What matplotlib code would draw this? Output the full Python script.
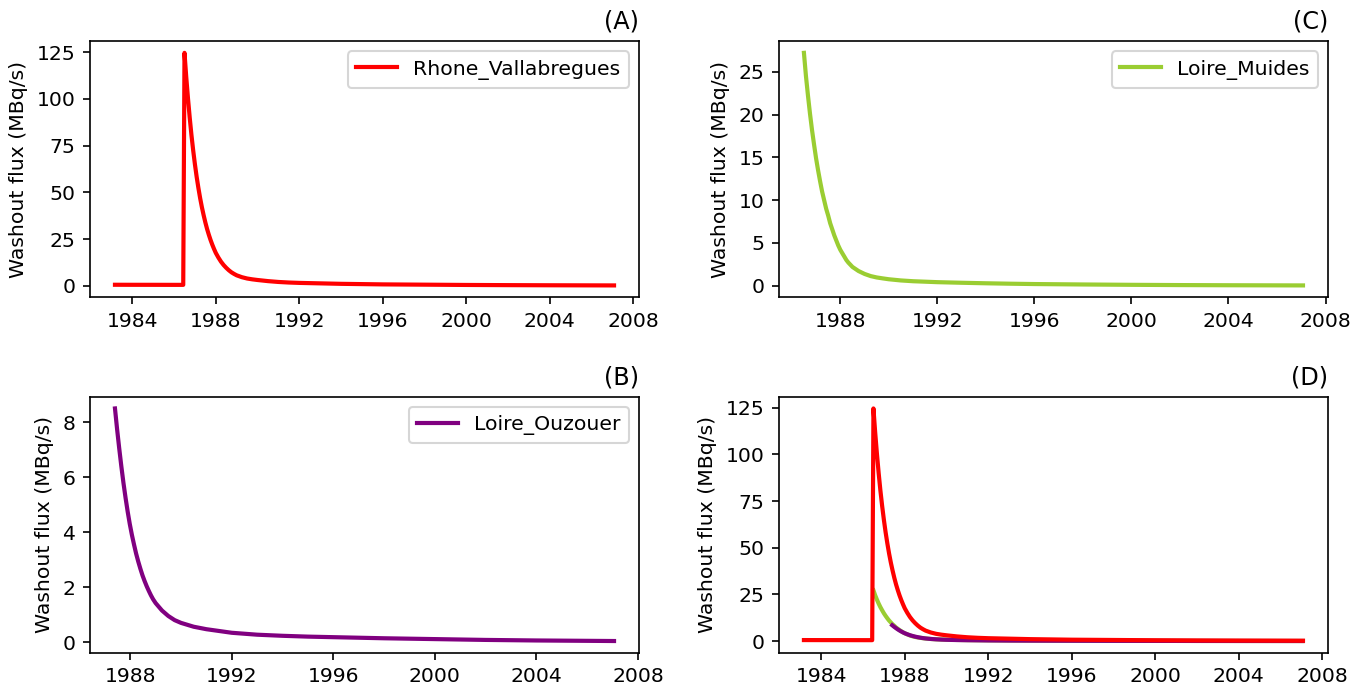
import pandas as pd
import matplotlib.pyplot as plt
import matplotlib.dates as mdates

plt.rcParams.update({'font.size': 9.8})

# Washout flux series, time in decimal years, flux in MBq/s
RHONE_T = [1983.17, 1984.0, 1985.0, 1986.0, 1986.44,
           1986.50, 1986.583, 1986.667, 1986.75, 1986.833, 1986.917,
           1987.0, 1987.083, 1987.167, 1987.25, 1987.333, 1987.417,
           1987.5, 1987.583, 1987.667, 1987.75, 1987.833, 1987.917,
           1988.0, 1988.125, 1988.25, 1988.375, 1988.5, 1988.625,
           1988.75, 1988.875, 1989.0, 1989.25, 1989.5, 1989.75,
           1990.0, 1990.5, 1991.0, 1991.5, 1992.0, 1993.0, 1994.0,
           1995.0, 1996.0, 1998.0, 2000.0, 2002.0, 2004.0, 2007.08]
RHONE_V = [0.55, 0.53, 0.52, 0.5, 0.5,
           124.6, 111.8, 100.3, 90.0, 80.7, 72.4,
           65.0, 58.3, 52.3, 46.9, 42.1, 37.8,
           33.9, 30.4, 27.3, 24.5, 22.0, 19.7,
           17.6, 15.1, 12.9, 11.1, 9.6, 8.3,
           7.2, 6.35, 5.6, 4.6, 3.9, 3.45,
           3.1, 2.5, 2.05, 1.75, 1.55, 1.3, 1.05,
           0.9, 0.75, 0.6, 0.45, 0.35, 0.28, 0.2]

MUIDES_T = [1986.50, 1986.583, 1986.667, 1986.75, 1986.833, 1986.917,
            1987.0, 1987.083, 1987.167, 1987.25, 1987.333, 1987.417,
            1987.5, 1987.583, 1987.667, 1987.75, 1987.833, 1987.917,
            1988.0, 1988.083, 1988.167, 1988.25, 1988.333, 1988.417,
            1988.5, 1988.75, 1989.0, 1989.25, 1989.5, 1989.75, 1990.0,
            1990.5, 1991.0, 1992.0, 1993.0, 1994.0, 1995.0, 1996.0,
            1998.0, 2000.0, 2002.0, 2004.0, 2007.07]
MUIDES_V = [27.2, 24.5, 22.2, 20.1, 18.2, 16.5,
            14.9, 13.5, 12.2, 11.0, 10.0, 9.0,
            8.2, 7.3, 6.6, 5.9, 5.3, 4.7,
            4.2, 3.8, 3.4, 3.0, 2.7, 2.45,
            2.2, 1.72, 1.38, 1.13, 0.97, 0.86, 0.76,
            0.62, 0.53, 0.42, 0.35, 0.29, 0.24, 0.2,
            0.15, 0.11, 0.08, 0.06, 0.04]

OUZOUER_T = [1987.40, 1987.483, 1987.567, 1987.65, 1987.733, 1987.817,
             1987.90, 1987.983, 1988.067, 1988.15, 1988.233, 1988.317,
             1988.40, 1988.483, 1988.567, 1988.65, 1988.733, 1988.817,
             1988.90, 1989.0, 1989.25, 1989.5, 1989.75, 1990.0, 1990.5,
             1991.0, 1992.0, 1993.0, 1994.0, 1995.0, 1996.0, 1998.0,
             2000.0, 2002.0, 2004.0, 2007.06]
OUZOUER_V = [8.5, 7.75, 7.05, 6.4, 5.8, 5.25,
             4.75, 4.3, 3.9, 3.55, 3.22, 2.93,
             2.67, 2.43, 2.22, 2.03, 1.86, 1.70,
             1.56, 1.42, 1.15, 0.95, 0.80, 0.70, 0.56,
             0.47, 0.34, 0.27, 0.23, 0.2, 0.18, 0.14,
             0.11, 0.08, 0.06, 0.04]

Y_LABEL = "Washout flux (MBq/s)"


def to_dates(years):
    # decimal year -> timestamp
    out = []
    for y in years:
        yr = int(y)
        start = pd.Timestamp(year=yr, month=1, day=1)
        end = pd.Timestamp(year=yr + 1, month=1, day=1)
        out.append(start + (end - start) * (y - yr))
    return out


rhone = pd.DataFrame({'time': to_dates(RHONE_T), 'flux': RHONE_V})
muides = pd.DataFrame({'time': to_dates(MUIDES_T), 'flux': MUIDES_V})
ouzouer = pd.DataFrame({'time': to_dates(OUZOUER_T), 'flux': OUZOUER_V})

fig, axes = plt.subplots(2, 2, figsize=(9.093, 4.58), dpi=150)
plt.subplots_adjust(left=0.066, right=0.9736, top=0.940, bottom=0.05,
                    wspace=0.255, hspace=0.39)


def setup(ax, tag):
    ax.set_title(tag, loc='right', fontsize=11.5)
    ax.set_ylabel(Y_LABEL)
    ax.xaxis.set_major_locator(mdates.YearLocator(4))
    ax.xaxis.set_major_formatter(mdates.DateFormatter('%Y'))


ax = axes[0, 0]
ax.plot(rhone['time'], rhone['flux'], color='red', linewidth=2, label='Rhone_Vallabregues')
ax.legend(loc='upper right')
setup(ax, '(A)')

ax = axes[0, 1]
ax.plot(muides['time'], muides['flux'], color='yellowgreen', linewidth=2, label='Loire_Muides')
ax.legend(loc='upper right')
setup(ax, '(C)')

ax = axes[1, 0]
ax.plot(ouzouer['time'], ouzouer['flux'], color='purple', linewidth=2, label='Loire_Ouzouer')
ax.legend(loc='upper right')
setup(ax, '(B)')

ax = axes[1, 1]
ax.plot(muides['time'], muides['flux'], color='yellowgreen', linewidth=2)
ax.plot(ouzouer['time'], ouzouer['flux'], color='purple', linewidth=2)
ax.plot(rhone['time'], rhone['flux'], color='red', linewidth=2)
setup(ax, '(D)')

fig.savefig('out.png', dpi=150)
